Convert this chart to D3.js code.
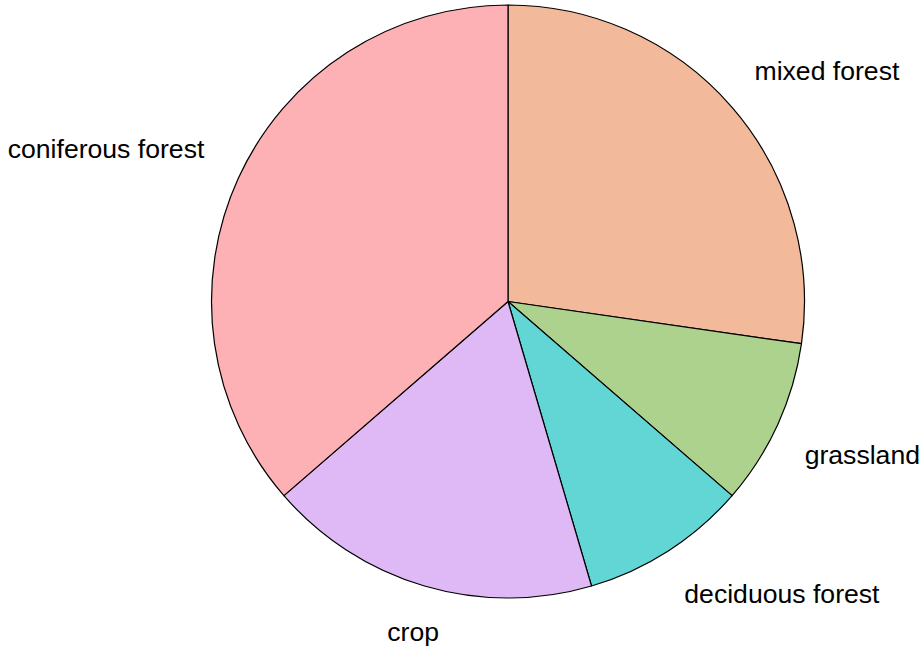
<!DOCTYPE html>
<html><head><meta charset="utf-8">
<script src="https://cdn.jsdelivr.net/npm/d3@7"></script>
<style>html,body{margin:0;padding:0;background:#fff;}svg{display:block;}</style>
</head><body>
<svg id="chart" width="924" height="648"></svg>
<script>
const categories = ["mixed forest", "grassland", "deciduous forest", "crop", "coniferous forest"];
const values = [30, 10, 10, 20, 40];
const colors = ["#F3B99B", "#ADD28E", "#62D6D5", "#DFB8F6", "#FEB1B4"];

const W = 924, H = 648;
const cx = 508, cy = 301.5, R = 296.5;
const svg = d3.select("#chart");
const g = svg.append("g").attr("transform", `translate(${cx},${cy})`);

const pie = d3.pie().sort(null).value(d => d.v).startAngle(0).endAngle(2 * Math.PI);
const data = pie(categories.map((c, i) => ({c, v: values[i], col: colors[i]})));
const arc = d3.arc().innerRadius(0).outerRadius(R);

g.selectAll("path.slice").data(data).join("path")
  .attr("class", "slice")
  .attr("d", arc)
  .attr("fill", d => d.data.col)
  .attr("stroke", "#000")
  .attr("stroke-width", 1.2)
  .attr("stroke-linejoin", "round");

const LR = R * 1.1;
g.selectAll("text.lab").data(data).join("text")
  .attr("class", "lab")
  .each(function(d) {
    const a = (d.startAngle + d.endAngle) / 2;
    const s = Math.sin(a), c = Math.cos(a);
    const x = LR * s, y = -LR * c;
    const anchor = Math.abs(s) < 0.4 ? "middle" : (s > 0 ? "start" : "end");
    const bx = anchor === "end" ? x - 7 : (anchor === "middle" ? x - 3 : x);
    const by = c > 0 ? y - 8 : y + 27;
    d3.select(this).attr("x", bx).attr("y", by).attr("text-anchor", anchor).text(d.data.c);
  })
  .attr("font-family", "'Liberation Sans', Arial, Helvetica, sans-serif")
  .attr("font-size", 26.6)
  .attr("fill", "#000");
</script>
</body></html>
